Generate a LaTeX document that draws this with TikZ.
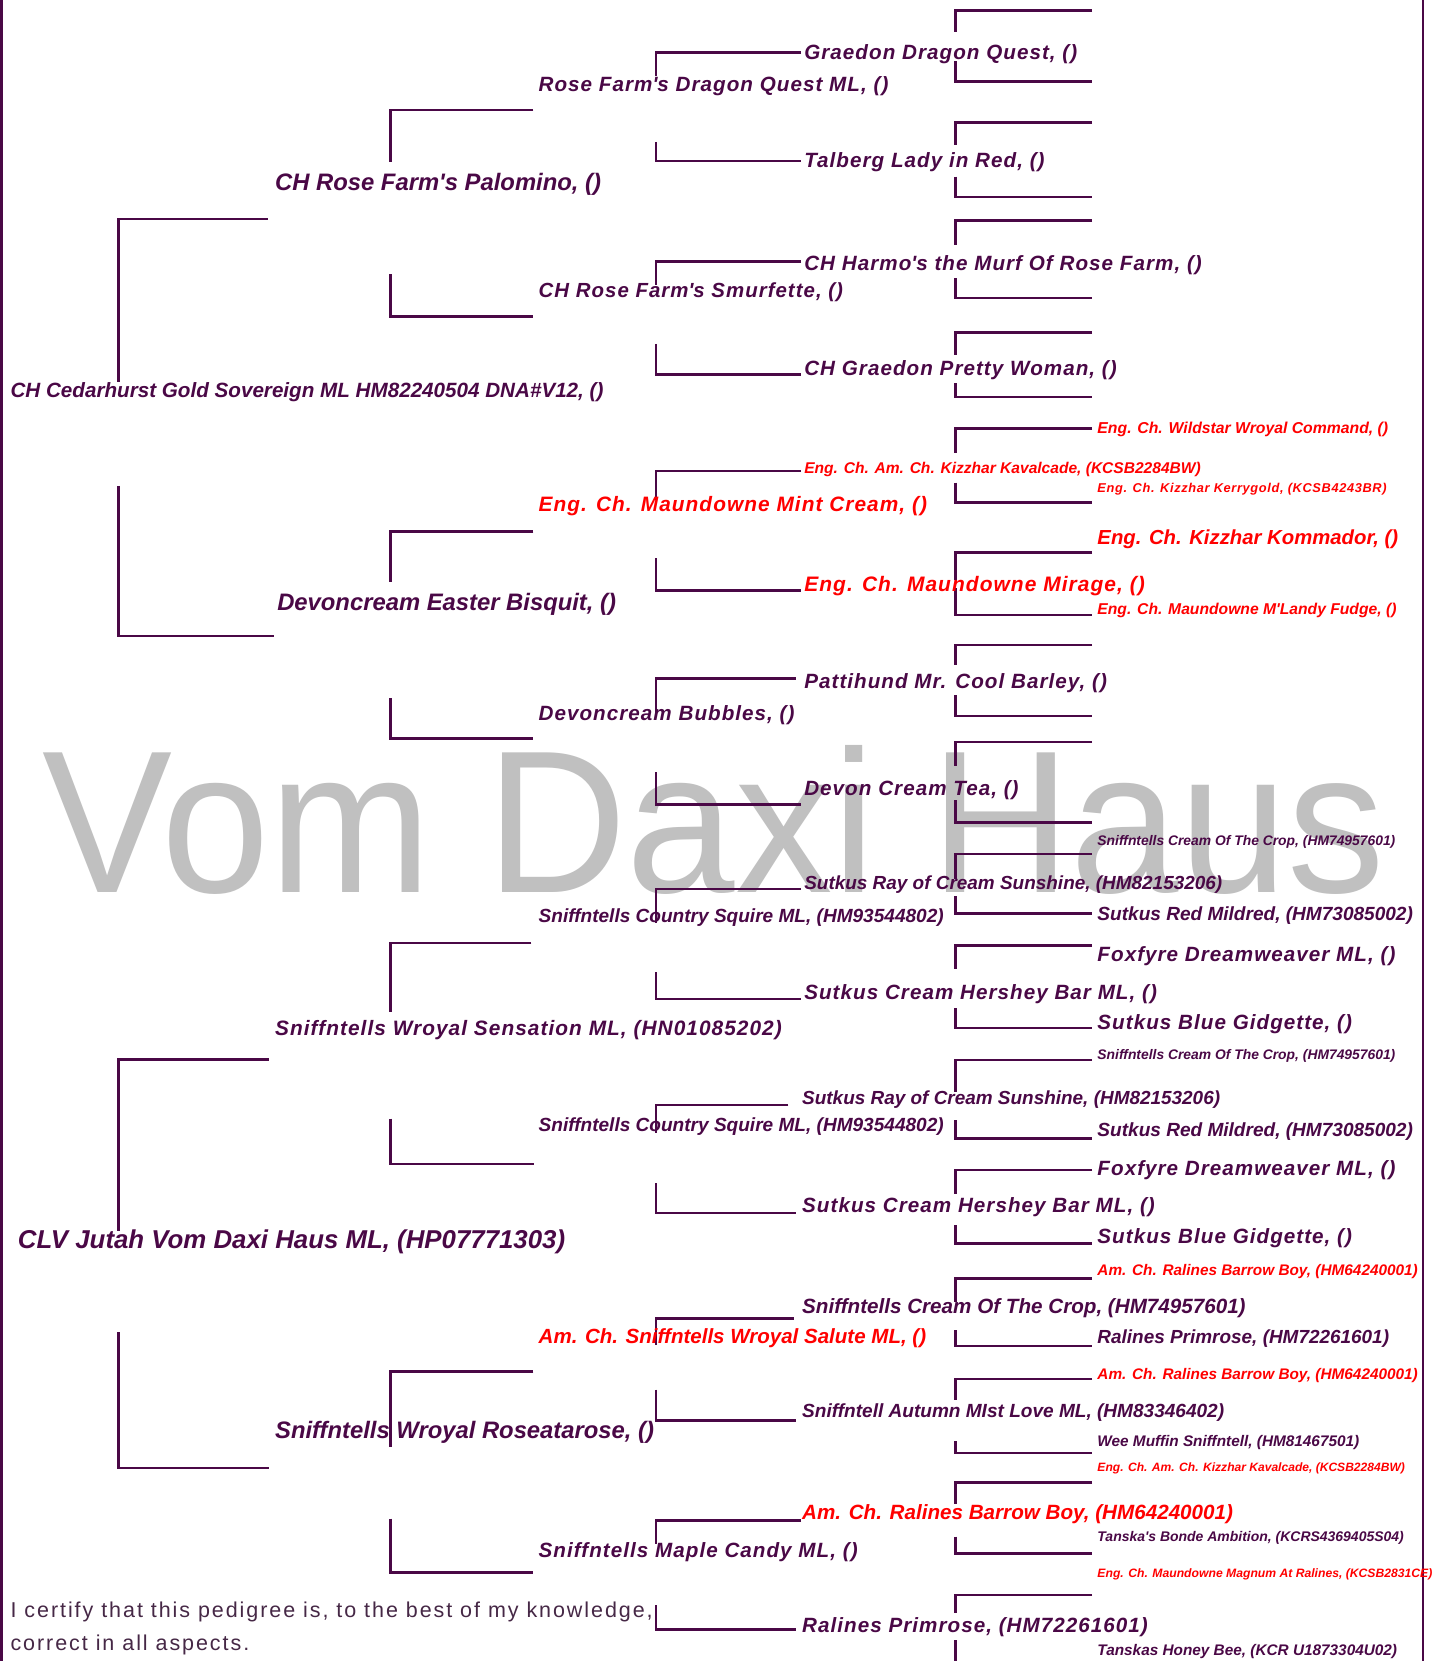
\documentclass[tikz,border=0pt]{standalone}
\usepackage{fontspec}
\setmainfont{Liberation Sans}
\newfontfamily\lsfam[LetterSpace=5]{Liberation Sans}
\newfontfamily\certfam[LetterSpace=9]{Liberation Sans}
\newfontfamily\wmfam[FakeStretch=0.96]{Liberation Sans}
\definecolor{pur}{RGB}{74,8,70}
\definecolor{wm}{RGB}{192,192,192}
\definecolor{cert}{RGB}{70,40,70}
\newcommand\FN{\normalfont\bfseries\itshape}
\newcommand\FL{\lsfam\bfseries\itshape}
\newcommand\q{\textquotesingle}
\tikzset{
  ptext/.style={anchor=base west, inner sep=0pt, outer sep=0pt},
  ln/.style={draw=pur, line width=2.6pt}
}
\newcommand\pnode[7]{\node[ptext,text=#6,font={#5\fontsize{\fpeval{#4*1.0583}}{\fpeval{#4*1.25}}\selectfont}] (#1) at (#2,{#3+0.358*#4}) {#7};}
\begin{document}
\begin{tikzpicture}[x=1.0583pt,y=-1.0583pt]
\useasboundingbox (0,0) rectangle (1355,1569.5);
\fill[white] (0,0) rectangle (1355,1569.5);
% watermark
\node[ptext,text=wm,font={\wmfam\fontsize{203}{240}\selectfont}] (wmark) at (40,843) {Vom Daxi Haus};
% borders
\draw[ln] (1.2,0) -- (1.2,1569.5);
\draw[ln,line width=2.8pt] (1344.6,0) -- (1344.6,1569.5);
% generation 1 brackets
\draw[ln] (253,207) -- (112,207) -- (112,361);
\draw[ln] (112,459) -- (112,601) -- (259,601);
\draw[ln] (254,1001) -- (112,1001) -- (112,1163);
\draw[ln] (112,1259) -- (112,1387) -- (254,1387);
% generation 2 brackets
\draw[ln] (504,104) -- (369,104) -- (369,153);
\draw[ln] (369,259) -- (369,299) -- (504,299);
\draw[ln] (504,502) -- (369,502) -- (369,550);
\draw[ln] (369,660) -- (369,697.6) -- (504,697.6);
\draw[ln] (502,891) -- (369,891) -- (369,956);
\draw[ln] (369,1057) -- (369,1100) -- (505,1100);
\draw[ln] (504,1296) -- (369,1296) -- (369,1367);
\draw[ln] (369,1435) -- (369,1486) -- (504,1486);
% generation 3 brackets
\draw[ln] (757,49.5) -- (620,49.5) -- (620,72);
\draw[ln] (620,134) -- (620,152) -- (757,152);
\draw[ln] (757,247) -- (620,247) -- (620,269);
\draw[ln] (620,325) -- (620,354) -- (757,354);
\draw[ln] (757,445) -- (620,445) -- (620,472.5);
\draw[ln] (620,527.6) -- (620,558) -- (757,558);
\draw[ln] (752,641) -- (620,641) -- (620,674);
\draw[ln] (620,729.5) -- (620,760) -- (757,760);
\draw[ln] (757,840) -- (620,840) -- (620,872);
\draw[ln] (620,918.5) -- (620,944) -- (757,944);
\draw[ln] (745,1044) -- (620,1044) -- (620,1071);
\draw[ln] (620,1118) -- (620,1146) -- (752,1146);
\draw[ln] (750,1245.8) -- (620,1245.8) -- (620,1271);
\draw[ln] (620,1313) -- (620,1342) -- (752,1342);
\draw[ln] (757,1437) -- (620,1437) -- (620,1458.5);
\draw[ln] (620,1517) -- (620,1539.5) -- (752,1539.5);
% generation 4 brackets
\foreach \yt/\ya/\yb/\yc in {10.1/30/58/77, 116/137/167/186, 208.6/231.6/263/281.6, 314/335.5/362/375,
  405/428/456/475, 522/548/556/581, 609.6/628/657/676.7, 701/724/756/777,
  807/831/847/863, 893.6/916/952.6/971.5, 1001.6/1032/1058.6/1075.6, 1105.7/1128/1157.6/1175,
  1208/1230/1257/1272, 1303/1323/1362/1373, 1401/1421/1452/1468}{
  \draw[ln] (1032,\yt) -- (903,\yt) -- (903,\ya);
  \draw[ln] (903,\yb) -- (903,\yc) -- (1032,\yc);
}
\draw[ln] (1032,1507) -- (903,1507) -- (903,1524);
\draw[ln] (903,1550) -- (903,1570);
% generation 1 texts
\pnode{t01}{10}{369}{19.5}{\FN}{pur}{CH Cedarhurst Gold Sovereign ML HM82240504 DNA\#V12, ()}
\pnode{t02}{17}{1171}{24.4}{\FN}{pur}{CLV Jutah Vom Daxi Haus ML, (HP07771303)}
% generation 2 texts
\pnode{t03}{260}{172}{22.5}{\FN}{pur}{CH Rose Farm\q s Palomino, ()}
\pnode{t04}{262}{568.5}{22.5}{\FN}{pur}{Devoncream Easter Bisquit, ()}
\pnode{t05}{260}{971.5}{19.7}{\FL}{pur}{Sniffntells Wroyal Sensation ML, (HN01085202)}
\pnode{t06}{260}{1351}{22.5}{\FN}{pur}{Sniffntells Wroyal Roseatarose, ()}
% generation 3 texts
\pnode{t07}{509}{79.4}{19.5}{\FL}{pur}{Rose Farm\q s Dragon Quest ML, ()}
\pnode{t08}{509}{274}{19.3}{\FL}{pur}{CH Rose Farm\q s Smurfette, ()}
\pnode{t09}{509}{476}{19.7}{\FL}{red}{Eng. Ch. Maundowne Mint Cream, ()}
\pnode{t10}{509}{674}{19.5}{\FL}{pur}{Devoncream Bubbles, ()}
\pnode{t11}{509}{865}{18}{\FN}{pur}{Sniffntells Country Squire ML, (HM93544802)}
\pnode{t12}{509}{1063}{18}{\FN}{pur}{Sniffntells Country Squire ML, (HM93544802)}
\pnode{t13}{509}{1262.5}{19.4}{\FN}{red}{Am. Ch. Sniffntells Wroyal Salute ML, ()}
\pnode{t14}{509}{1465}{19.5}{\FL}{pur}{Sniffntells Maple Candy ML, ()}
% generation 4 texts
\pnode{t15}{760}{49}{19.5}{\FL}{pur}{Graedon Dragon Quest, ()}
\pnode{t16}{760}{151}{19.5}{\FL}{pur}{Talberg Lady in Red, ()}
\pnode{t17}{760}{248.6}{19.5}{\FL}{pur}{CH Harmo\q s the Murf Of Rose Farm, ()}
\pnode{t18}{760}{347.8}{19.5}{\FL}{pur}{CH Graedon Pretty Woman, ()}
\pnode{t19}{760}{442}{14.7}{\FN}{red}{Eng. Ch. Am. Ch. Kizzhar Kavalcade, (KCSB2284BW)}
\pnode{t20}{760}{552}{19.8}{\FL}{red}{Eng. Ch. Maundowne Mirage, ()}
\pnode{t21}{760}{644}{19.5}{\FL}{pur}{Pattihund Mr. Cool Barley, ()}
\pnode{t22}{760}{745}{19.5}{\FL}{pur}{Devon Cream Tea, ()}
\pnode{t23}{760}{834}{17.9}{\FN}{pur}{Sutkus Ray of Cream Sunshine, (HM82153206)}
\pnode{t24}{760}{937}{19.5}{\FL}{pur}{Sutkus Cream Hershey Bar ML, ()}
\pnode{t25}{758}{1037.6}{17.9}{\FN}{pur}{Sutkus Ray of Cream Sunshine, (HM82153206)}
\pnode{t26}{758}{1139}{19.5}{\FL}{pur}{Sutkus Cream Hershey Bar ML, ()}
\pnode{t27}{758}{1234}{19.5}{\FN}{pur}{Sniffntells Cream Of The Crop, (HM74957601)}
\pnode{t28}{758}{1333}{18}{\FN}{pur}{Sniffntell Autumn MIst Love ML, (HM83346402)}
\pnode{t29}{758}{1429}{19.5}{\FN}{red}{Am. Ch. Ralines Barrow Boy, (HM64240001)}
\pnode{t30}{758}{1535.6}{19.5}{\FL}{pur}{Ralines Primrose, (HM72261601)}
% generation 5 texts
\pnode{t31}{1037}{404}{14.9}{\FN}{red}{Eng. Ch. Wildstar Wroyal Command, ()}
\pnode{t32}{1037}{461}{12.1}{\FL}{red}{Eng. Ch. Kizzhar Kerrygold, (KCSB4243BR)}
\pnode{t33}{1037}{508}{19.2}{\FN}{red}{Eng. Ch. Kizzhar Kommador, ()}
\pnode{t34}{1037}{575}{14.8}{\FN}{red}{Eng. Ch. Maundowne M\q Landy Fudge, ()}
\pnode{t35}{1037}{794.5}{13.1}{\FN}{pur}{Sniffntells Cream Of The Crop, (HM74957601)}
\pnode{t36}{1037}{863}{18}{\FN}{pur}{Sutkus Red Mildred, (HM73085002)}
\pnode{t37}{1037}{901.6}{19.5}{\FL}{pur}{Foxfyre Dreamweaver ML, ()}
\pnode{t38}{1037}{966}{19.5}{\FL}{pur}{Sutkus Blue Gidgette, ()}
\pnode{t39}{1037}{996}{13.1}{\FN}{pur}{Sniffntells Cream Of The Crop, (HM74957601)}
\pnode{t40}{1037}{1067}{18}{\FN}{pur}{Sutkus Red Mildred, (HM73085002)}
\pnode{t41}{1037}{1104}{19.5}{\FL}{pur}{Foxfyre Dreamweaver ML, ()}
\pnode{t42}{1037}{1168}{19.5}{\FL}{pur}{Sutkus Blue Gidgette, ()}
\pnode{t43}{1037}{1200}{14.5}{\FN}{red}{Am. Ch. Ralines Barrow Boy, (HM64240001)}
\pnode{t44}{1037}{1263}{17.9}{\FN}{pur}{Ralines Primrose, (HM72261601)}
\pnode{t45}{1037}{1298}{14.5}{\FN}{red}{Am. Ch. Ralines Barrow Boy, (HM64240001)}
\pnode{t46}{1037}{1362}{14.5}{\FN}{pur}{Wee Muffin Sniffntell, (HM81467501)}
\pnode{t47}{1037}{1386}{11.4}{\FN}{red}{Eng. Ch. Am. Ch. Kizzhar Kavalcade, (KCSB2284BW)}
\pnode{t48}{1037}{1452}{13.2}{\FN}{pur}{Tanska\q s Bonde Ambition, (KCRS4369405S04)}
\pnode{t49}{1037}{1486}{11.5}{\FN}{red}{Eng. Ch. Maundowne Magnum At Ralines, (KCSB2831CE)}
\pnode{t50}{1037}{1559}{14.5}{\FN}{pur}{Tanskas Honey Bee, (KCR U1873304U02)}
% certification
\node[ptext,text=cert,font={\certfam\fontsize{21.5}{26}\selectfont}] (cert1) at (10,1528.5) {I certify that this pedigree is, to the best of my knowledge,};
\node[ptext,text=cert,font={\certfam\fontsize{21.5}{26}\selectfont}] (cert2) at (10,1559.5) {correct in all aspects.};
\end{tikzpicture}
\end{document}
